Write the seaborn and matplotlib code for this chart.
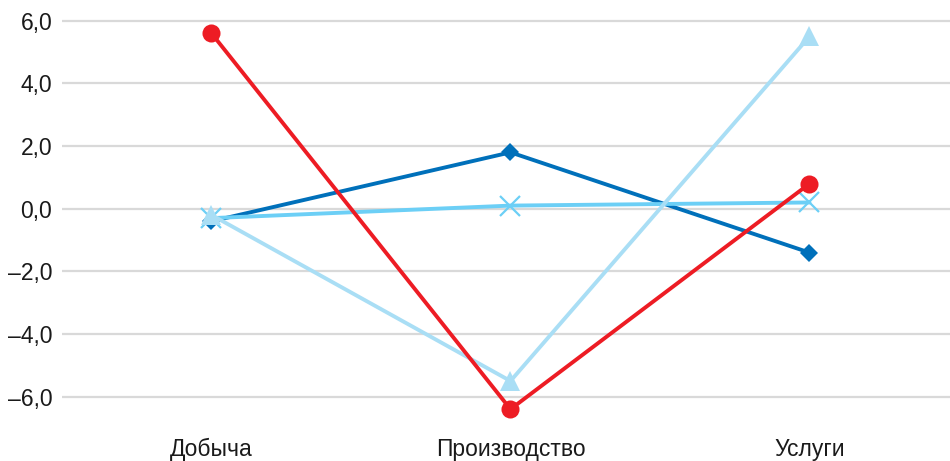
import numpy as np
import pandas as pd
import matplotlib
matplotlib.use("Agg")
import matplotlib.pyplot as plt
import seaborn as sns

categories = ["Добыча", "Производство", "Услуги"]
series_a = [-0.4, 1.8, -1.4]     # dark blue, diamonds
series_b = [-0.3, 0.1, 0.2]      # sky blue, crosses
series_c = [-0.2, -5.5, 5.5]     # pale blue, triangles
series_d = [5.6, -6.4, 0.8]      # red, circles
yticks = [-6, -4, -2, 0, 2, 4, 6]

names = ["A", "B", "C", "D"]
values = [series_a, series_b, series_c, series_d]
df = pd.DataFrame({
    "x": np.tile(np.arange(len(categories)), len(names)),
    "val": np.concatenate(values),
    "series": np.repeat(names, len(categories)),
})

sns.set_theme(style="white")
plt.rcParams["font.family"] = ["Liberation Sans Narrow", "Liberation Sans", "DejaVu Sans"]

colors = {"A": "#0070BA", "B": "#6CCFF6", "C": "#A9DEF5", "D": "#ED1C24"}
markers = {"A": "D", "B": "x", "C": "^", "D": "o"}
msize = {"A": 9, "B": 14, "C": 15, "D": 13}

fig = plt.figure(figsize=(9.5, 4.61), dpi=100)
ax = fig.add_axes([62 / 950, 1 - 428 / 461, 1 - 62 / 950, (428 - 2) / 461])

for i, n in enumerate(names):
    sub = df[df["series"] == n]
    sns.lineplot(data=sub, x="x", y="val", ax=ax, color=colors[n], lw=2.8,
                 marker=markers[n], markersize=msize[n],
                 markeredgewidth=1.6 if n == "B" else 0,
                 markeredgecolor=colors[n], zorder=3 + i, legend=False)

ax.set_xlim(-0.5, 2.47)
ax.set_ylim(-7, 6.6)
ax.set_yticks(yticks)
ax.set_yticklabels([f"{v:.1f}".replace(".", ",").replace("-", "\u2013") for v in yticks])
ax.set_xticks(range(len(categories)))
ax.set_xticklabels(categories)
ax.grid(axis="y", color="#D9D9D9", lw=1.6)
ax.grid(axis="x", visible=False)
ax.tick_params(axis="both", length=0, labelsize=16.5, colors="#1a1a1a")
ax.tick_params(axis="y", pad=7)
ax.tick_params(axis="x", pad=7)
ax.set_xlabel("")
ax.set_ylabel("")
for s in ax.spines.values():
    s.set_visible(False)

fig.savefig("out.png", dpi=100)
